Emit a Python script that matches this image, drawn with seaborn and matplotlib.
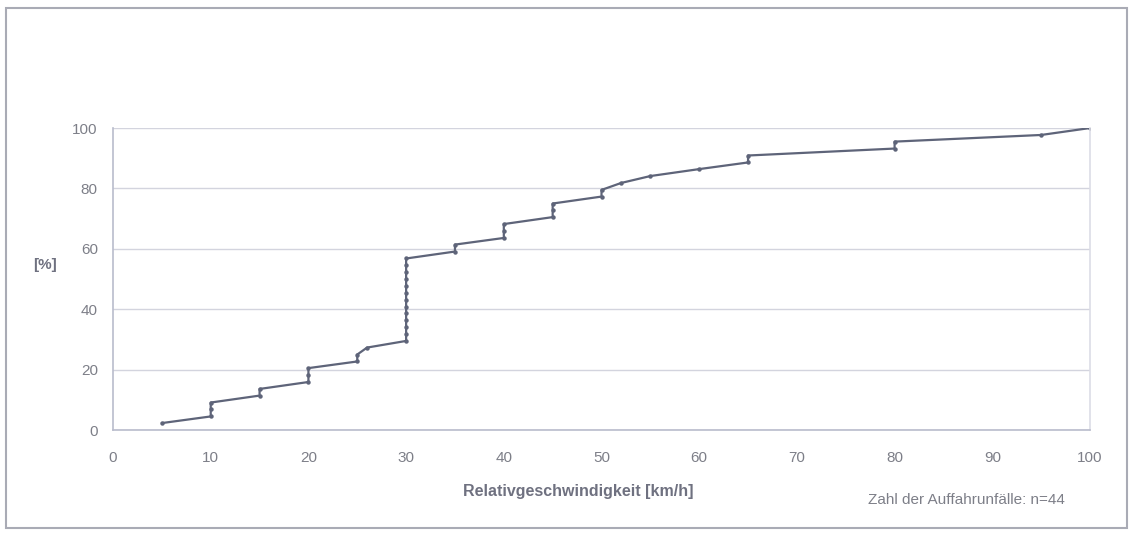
import matplotlib
matplotlib.use("Agg")
import matplotlib.pyplot as plt
import seaborn as sb
import pandas as pd
from matplotlib.patches import Rectangle

# relative speed of each rear-end collision, sorted (n=44)
speed = [5,
         10, 10, 10,
         15, 15,
         20, 20, 20,
         25, 25, 26,
         30, 30, 30, 30, 30, 30, 30, 30, 30, 30, 30, 30, 30,
         35, 35,
         40, 40, 40,
         45, 45, 45,
         50, 50, 52, 55, 60,
         65, 65,
         80, 80,
         95, 100]
# cumulative share [%]
percent = [2.3,
           4.5, 6.8, 9.1,
           11.4, 13.6,
           15.9, 18.2, 20.5,
           22.7, 25.0, 27.3,
           29.5, 31.8, 34.1, 36.4, 38.6, 40.9, 43.2, 45.5, 47.7, 50.0, 52.3, 54.5, 56.8,
           59.1, 61.4,
           63.6, 65.9, 68.2,
           70.5, 72.7, 75.0,
           77.3, 79.5, 81.8, 84.1, 86.4,
           88.6, 90.9,
           93.2, 95.5,
           97.7, 100.0]
xticks = [0, 10, 20, 30, 40, 50, 60, 70, 80, 90, 100]
yticks = [0, 20, 40, 60, 80, 100]

df = pd.DataFrame({"speed": speed, "percent": percent})

sb.set_style("white")
plt.rcParams["font.family"] = ["Liberation Sans", "DejaVu Sans"]

txt = "#7d7f88"
axcol = "#b9bccc"

fig = plt.figure(figsize=(11.36, 5.33), dpi=100)
ax = fig.add_axes([0.0995, 0.1932, 0.86, 0.5666])

sb.lineplot(data=df, x="speed", y="percent", estimator=None, sort=False,
            color="#5e6479", lw=1.6, marker="o", markersize=3.2,
            markeredgewidth=0, ax=ax)

ax.set_xlim(0, 100)
ax.set_ylim(0, 100)
ax.set_xticks(xticks)
ax.set_yticks(yticks)
ax.yaxis.grid(True, color="#d3d4de", lw=1)
ax.set_axisbelow(True)
ax.spines["top"].set_visible(False)
for s in ["left", "bottom", "right"]:
    ax.spines[s].set_color(axcol)
    ax.spines[s].set_linewidth(1.2)
ax.spines["right"].set_color("#dcdde6")
ax.tick_params(axis="both", colors=axcol, length=5, width=1, direction="out",
               labelcolor=txt, labelsize=11)
ax.tick_params(axis="x", pad=10)
ax.tick_params(axis="y", pad=6)
ax.set_xlabel("")
ax.set_ylabel("")

fig.text(0.04, 0.503, "[%]", color="#6f7180", fontsize=11, fontweight="bold",
         va="center", ha="center")
fig.text(0.509, 0.077, "Relativgeschwindigkeit [km/h]", color="#6f7180",
         fontsize=11.5, fontweight="bold", ha="center", va="center")
fig.text(0.851, 0.061, "Zahl der Auffahrunfälle: n=44", color=txt,
         fontsize=11, ha="center", va="center")

fig.patches.append(Rectangle((0.005, 0.01), 0.987, 0.975, transform=fig.transFigure,
                             fill=False, edgecolor="#a9abb5", lw=1.5))

fig.savefig("out.png", dpi=100)
